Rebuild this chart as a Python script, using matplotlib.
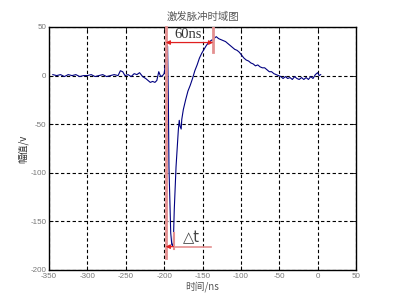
import matplotlib
matplotlib.use("Agg")
import matplotlib.pyplot as plt

plt.rcParams['font.family'] = ['Noto Sans CJK SC', 'DejaVu Sans']
plt.rcParams['axes.unicode_minus'] = False

# time (ns) and amplitude (V)
t = [-345, -340, -335, -330, -325, -320, -315, -310, -305, -300, -295, -290,
     -285, -280, -275, -270, -265, -260, -257, -254, -251, -247, -243, -239,
     -235.5, -232, -228, -224, -221, -218, -215, -212, -209.5, -207, -204.5,
     -202, -200, -198.5, -197.5, -196.7, -195.5, -194.5, -193.7, -191.4, -190,
     -189, -188, -186.8, -184.5, -181.5, -180.3, -179.3, -177.8, -177, -175,
     -172, -169, -166, -163, -160, -157, -154, -151, -148, -145, -142, -139,
     -137, -136, -134, -132, -129, -126, -123, -120, -117, -114, -111, -108,
     -105, -102, -99, -96, -93, -90, -87, -84, -81, -78, -75, -72, -69, -66,
     -63, -60, -57, -54, -51, -48, -45, -42, -39, -36, -33, -30, -27, -24,
     -21, -18, -15, -12, -9, -6, -3, 0, 2, 4]
v = [1, 0, 1, -1, 1, 0, 1, -1, 0, 0, 1, -1, 0, 1, -1, 0, 1, 0, 5, 4, 0, 1,
     -1, 2, 1, 3, -1, -3, -5, -7, -6, -7, -5, 4, -1, 0, 2, 10, 25, 33, 30,
     -25, -94, -162, -174, -175, -172, -138, -94, -56, -46, -52, -55, -45,
     -35, -25, -16, -10, -3, 5, 11, 18, 23, 27, 31, 34, 36, 37, 35, 39, 40,
     38, 37, 36, 35, 33, 31, 29, 27, 26, 24, 21, 18, 16, 15, 13, 12, 10, 11,
     9, 8, 8, 6, 4, 4, 2, 1, 0, -1, -3, -1, -3, -2, -4, -1, -3, -4, -2, -4,
     -2, -4, -1, -3, 1, 3, 0, 1]

xticks = [-350, -300, -250, -200, -150, -100, -50, 0, 50]
yticks = [50, 0, -50, -100, -150, -200]

title = "激发脉冲时域图"
xlabel = "时间/ns"
ylabel = "幅值/v"

fig = plt.figure(figsize=(4.04, 3.05), dpi=100)
ax = fig.add_axes([0.1213, 0.1148, 0.7599, 0.7967])

ax.plot(t, v, color='#000080', lw=0.8, zorder=3)

ax.set_xlim(-350, 50)
ax.set_ylim(-200, 50)
ax.set_xticks(xticks)
ax.set_yticks(yticks)
ax.grid(True, color='black', linestyle=(0, (3, 2.2)), linewidth=0.8)
ax.tick_params(direction='in', length=3, width=0.6, labelsize=5.8,
               labelcolor='#777777', top=True, right=True, pad=2)
for lab in ax.get_xticklabels() + ax.get_yticklabels():
    lab.set_fontfamily(['Liberation Sans', 'DejaVu Sans'])
for s in ax.spines.values():
    s.set_linewidth(1.0)
    s.set_color('black')

ax.set_title(title, fontsize=7.5, color='#555555', pad=5)
ax.set_xlabel(xlabel, fontsize=7, color='#555555', labelpad=1)
ax.set_ylabel(ylabel, fontsize=7, color='#333333', labelpad=1)

# red annotations
pink = '#e49090'
red = '#e02020'
ax.plot([-198, -198], [50, -188], color=pink, lw=2, zorder=4, clip_on=False)
ax.plot([-136, -136], [50, 24.5], color=pink, lw=2, zorder=4)
ax.annotate('', xy=(-198, 34), xytext=(-136, 34),
            arrowprops=dict(arrowstyle='<|-|>', color=red, lw=0.9,
                            mutation_scale=6, shrinkA=0, shrinkB=0), zorder=5)
ax.text(-169, 36, '60ns', fontsize=10.5, family='Liberation Serif',
        color='#333333', ha='center', va='bottom', zorder=6)

ax.plot([-186.7, -186.7], [-162, -178], color=pink, lw=1.5, zorder=4)
ax.plot([-187, -139], [-176, -176], color=pink, lw=1.2, zorder=4)
ax.annotate('', xy=(-198, -176), xytext=(-188, -176),
            arrowprops=dict(arrowstyle='-|>', color=red, lw=0.9,
                            mutation_scale=6, shrinkA=0, shrinkB=0), zorder=5)
ax.text(-176, -174, '△t', fontsize=10.5, family='DejaVu Sans',
        color='#444444', ha='left', va='bottom', zorder=6)

fig.savefig('out.png', dpi=100)
